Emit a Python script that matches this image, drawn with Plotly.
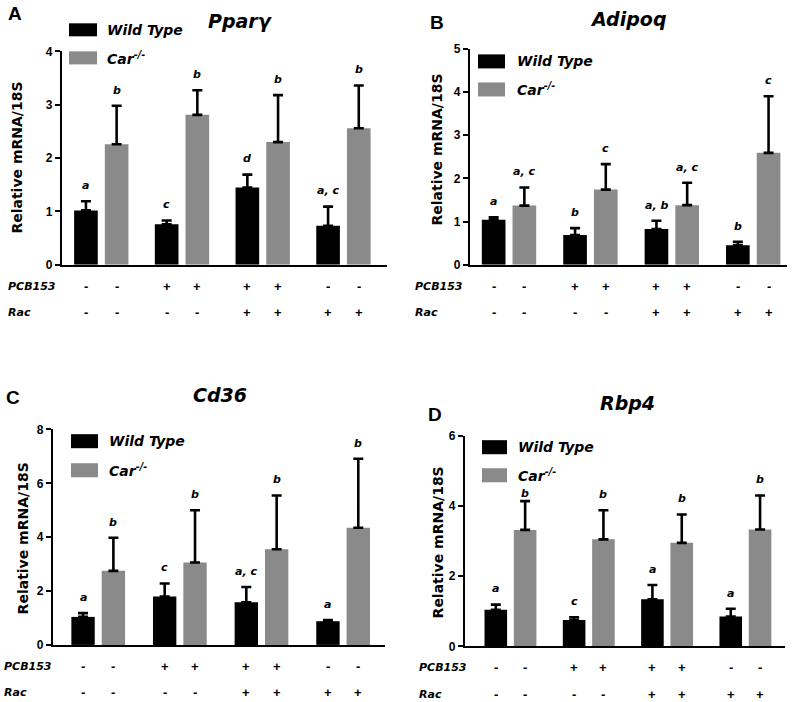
import plotly.graph_objects as go

W, H = 800, 702

# ---------------- data ----------------
panel_letters = ["A", "B", "C", "D"]
genes = ["Pparγ", "Adipoq", "Cd36", "Rbp4"]
series_names = ["Wild Type", "Car<sup>-/-</sup>"]
pcb153_signs = ["-", "-", "+", "+", "+", "+", "-", "-"]
rac_signs = ["-", "-", "-", "-", "+", "+", "+", "+"]

# mean values (WT, Car-/-) for 4 treatment groups: ctrl, PCB153, PCB153+Rac, Rac
pparg_wt = [1.02, 0.76, 1.45, 0.73]
pparg_car = [2.26, 2.81, 2.30, 2.56]
pparg_wt_top = [1.19, 0.83, 1.69, 1.09]
pparg_car_top = [2.98, 3.27, 3.18, 3.36]
pparg_wt_sig = ["a", "c", "d", "a, c"]
pparg_car_sig = ["b", "b", "b", "b"]

adipoq_wt = [1.04, 0.69, 0.83, 0.45]
adipoq_car = [1.37, 1.74, 1.38, 2.59]
adipoq_wt_top = [1.10, 0.85, 1.02, 0.53]
adipoq_car_top = [1.79, 2.33, 1.90, 3.90]
adipoq_wt_sig = ["a", "b", "a, b", "b"]
adipoq_car_sig = ["a, c", "c", "a, c", "c"]

cd36_wt = [1.04, 1.80, 1.58, 0.88]
cd36_car = [2.75, 3.06, 3.55, 4.35]
cd36_wt_top = [1.18, 2.28, 2.15, 0.92]
cd36_car_top = [3.98, 5.00, 5.55, 6.91]
cd36_wt_sig = ["a", "c", "a, c", "a"]
cd36_car_sig = ["b", "b", "b", "b"]

rbp4_wt = [1.04, 0.75, 1.34, 0.85]
rbp4_car = [3.32, 3.05, 2.95, 3.33]
rbp4_wt_top = [1.19, 0.83, 1.75, 1.07]
rbp4_car_top = [4.14, 3.88, 3.76, 4.30]
rbp4_wt_sig = ["a", "c", "a", "a"]
rbp4_car_sig = ["b", "b", "b", "b"]

y_max = [4, 5, 8, 6]
y_dtick = [1, 1, 2, 2]

panels_data = [
    (pparg_wt, pparg_car, pparg_wt_top, pparg_car_top, pparg_wt_sig, pparg_car_sig),
    (adipoq_wt, adipoq_car, adipoq_wt_top, adipoq_car_top, adipoq_wt_sig, adipoq_car_sig),
    (cd36_wt, cd36_car, cd36_wt_top, cd36_car_top, cd36_wt_sig, cd36_car_sig),
    (rbp4_wt, rbp4_car, rbp4_wt_top, rbp4_car_top, rbp4_wt_sig, rbp4_car_sig),
]

# ---------------- layout config (pixels of the 800x702 page) ----------------
# the captured page is squeezed slightly in height; compensate around the middle
S = 0.978


def px(x):
    return x / W


def py(y):
    y_adj = H / 2 + (y - H / 2) / S
    return 1 - y_adj / H


def sh(v):
    return v / S


BLACK = "#000000"
GRAY = "#8a8a8a"
SPACED = "DejaVu Sans"
ARIAL = "Liberation Sans"

cfg = [
    dict(xd=(62, 387), yd=(265, 52), xr=(-0.78, 9.81), grp=2.63, letter=(15, 14), title=(240, 22),
         leg=(69, 97, 24, 37, 52, 65), legtx=105, rowx=6, ytitle=(17, 158)),
    dict(xd=(470, 787), yd=(265, 49.3), xr=(-0.77, 9.55), grp=2.65, letter=(437, 23), title=(628, 20),
         leg=(478, 505, 55, 69, 83, 97), legtx=515, rowx=413, ytitle=(437, 150)),
    dict(xd=(53, 385), yd=(644.3, 429.3), xr=(-0.99, 9.95), grp=2.69, letter=(13, 397), title=(220, 395),
         leg=(71, 98, 434, 448, 463, 477), legtx=107, rowx=2, ytitle=(23, 538)),
    dict(xd=(465, 785), yd=(645.7, 435.7), xr=(-1.05, 9.86), grp=2.67, letter=(435, 414), title=(627, 403),
         leg=(482, 507, 440, 454, 468, 482), legtx=516, rowx=417, ytitle=(438, 542)),
]
# extra pixel shift for individual significance labels: (panel, series, group) -> px
sig_nudge = {(3, 1, 0): -8}

fig = go.Figure()
annotations = []
shapes = []
layout_axes = {}

for i, (data, c) in enumerate(zip(panels_data, cfg)):
    wt, car, wt_top, car_top, wt_sig, car_sig = data
    n = i + 1
    xa = "x" if n == 1 else f"x{n}"
    ya = "y" if n == 1 else f"y{n}"
    x_wt = [g * c["grp"] for g in range(4)]
    x_car = [g * c["grp"] + 1 for g in range(4)]

    for xs, vals, tops, color, name in [
        (x_wt, wt, wt_top, BLACK, series_names[0]),
        (x_car, car, car_top, GRAY, series_names[1]),
    ]:
        fig.add_trace(go.Bar(
            x=xs, y=vals, width=0.77, name=name, showlegend=False,
            marker=dict(color=color, line=dict(width=0)),
            error_y=dict(type="data", symmetric=False,
                         array=[t - v for t, v in zip(tops, vals)],
                         arrayminus=[0] * len(vals),
                         color=BLACK, thickness=2.6, width=5),
            xaxis=xa, yaxis=ya,
        ))

    # significance letters
    for si, (xs, tops, sig) in enumerate([(x_wt, wt_top, wt_sig), (x_car, car_top, car_sig)]):
        for g, (xv, tv, s) in enumerate(zip(xs, tops, sig)):
            annotations.append(dict(
                x=xv, y=tv, xref=xa, yref=ya, text=f"<b><i>{s}</i></b>",
                showarrow=False, yanchor="bottom", yshift=sh(7 + sig_nudge.get((i, si, g), 0)),
                font=dict(family=SPACED, size=11, color=BLACK)))

    # treatment rows
    all_x = []
    for g in range(4):
        all_x += [x_wt[g], x_car[g]]
    for xv, p_s, r_s in zip(all_x, pcb153_signs, rac_signs):
        annotations.append(dict(x=xv, y=0, xref=xa, yref=f"{ya} domain", text=f"<b>{p_s}</b>",
                                showarrow=False, yanchor="middle", yshift=sh(-21),
                                font=dict(family=ARIAL, size=13, color=BLACK)))
        annotations.append(dict(x=xv, y=0, xref=xa, yref=f"{ya} domain", text=f"<b>{r_s}</b>",
                                showarrow=False, yanchor="middle", yshift=sh(-47),
                                font=dict(family=ARIAL, size=13, color=BLACK)))
    for lab, yshift in [("PCB153", -21), ("Rac", -47)]:
        annotations.append(dict(x=px(c["rowx"]), y=0, xref="paper", yref=f"{ya} domain",
                                text=f"<b><i>{lab}</i></b>", showarrow=False,
                                xanchor="left", yanchor="middle", yshift=sh(yshift),
                                font=dict(family=SPACED, size=11, color=BLACK)))

    # panel letter and title
    annotations.append(dict(x=px(c["letter"][0]), y=py(c["letter"][1]), xref="paper", yref="paper",
                            text=f"<b>{panel_letters[i]}</b>", showarrow=False,
                            xanchor="center", yanchor="middle",
                            font=dict(family=ARIAL, size=19, color=BLACK)))
    annotations.append(dict(x=px(c["title"][0]), y=py(c["title"][1]), xref="paper", yref="paper",
                            text=f"<b><i>{genes[i]}</i></b>", showarrow=False,
                            xanchor="center", yanchor="middle",
                            font=dict(family=SPACED, size=19, color=BLACK)))
    # y-axis title
    annotations.append(dict(x=px(c["ytitle"][0]), y=py(c["ytitle"][1]), xref="paper", yref="paper",
                            text="<b>Relative mRNA/18S</b>", showarrow=False, textangle=-90,
                            xanchor="center", yanchor="middle",
                            font=dict(family=SPACED, size=14, color=BLACK)))

    # legend
    lx0, lx1, by0, by1, gy0, gy1 = c["leg"]
    for (y0, y1, color, name) in [(by0, by1, BLACK, series_names[0]), (gy0, gy1, GRAY, series_names[1])]:
        shapes.append(dict(type="rect", xref="paper", yref="paper",
                           x0=px(lx0), x1=px(lx1), y0=py(y1), y1=py(y0),
                           fillcolor=color, line=dict(width=0)))
        annotations.append(dict(x=px(c["legtx"]), y=py((y0 + y1) / 2), xref="paper", yref="paper",
                                text=f"<b><i>{name}</i></b>", showarrow=False,
                                xanchor="left", yanchor="middle",
                                font=dict(family=SPACED, size=14, color=BLACK)))

    xkey = "xaxis" if n == 1 else f"xaxis{n}"
    ykey = "yaxis" if n == 1 else f"yaxis{n}"
    layout_axes[xkey] = dict(domain=[px(c["xd"][0]), px(c["xd"][1])], range=list(c["xr"]),
                             anchor=ya, showticklabels=False, ticks="", showgrid=False,
                             zeroline=False, showline=True, linewidth=2.2, linecolor=BLACK,
                             fixedrange=True)
    layout_axes[ykey] = dict(domain=[py(c["yd"][0]), py(c["yd"][1])], range=[0, y_max[i]],
                             dtick=y_dtick[i], anchor=xa, showgrid=False, zeroline=False,
                             showline=True, linewidth=2.2, linecolor=BLACK,
                             ticks="outside", ticklen=5, tickwidth=2, tickcolor=BLACK,
                             tickfont=dict(family=ARIAL, size=12, color=BLACK),
                             tickprefix="<b>", ticksuffix="</b>", fixedrange=True)

fig.update_layout(
    width=W, height=H, margin=dict(l=0, r=0, t=0, b=0),
    paper_bgcolor="white", plot_bgcolor="white",
    showlegend=False, barmode="overlay",
    annotations=annotations, shapes=shapes,
    **layout_axes,
)

post = (
    "document.documentElement.style.margin='0';"
    "document.documentElement.style.overflow='hidden';"
    "document.body.style.margin='0';"
    "document.body.style.overflow='hidden';"
    "var d=document.getElementsByClassName('plotly-graph-div')[0];"
    "d.style.position='fixed';d.style.top='0px';d.style.left='0px';"
)
fig.write_html("out.html", config={"displayModeBar": False}, post_script=post)
